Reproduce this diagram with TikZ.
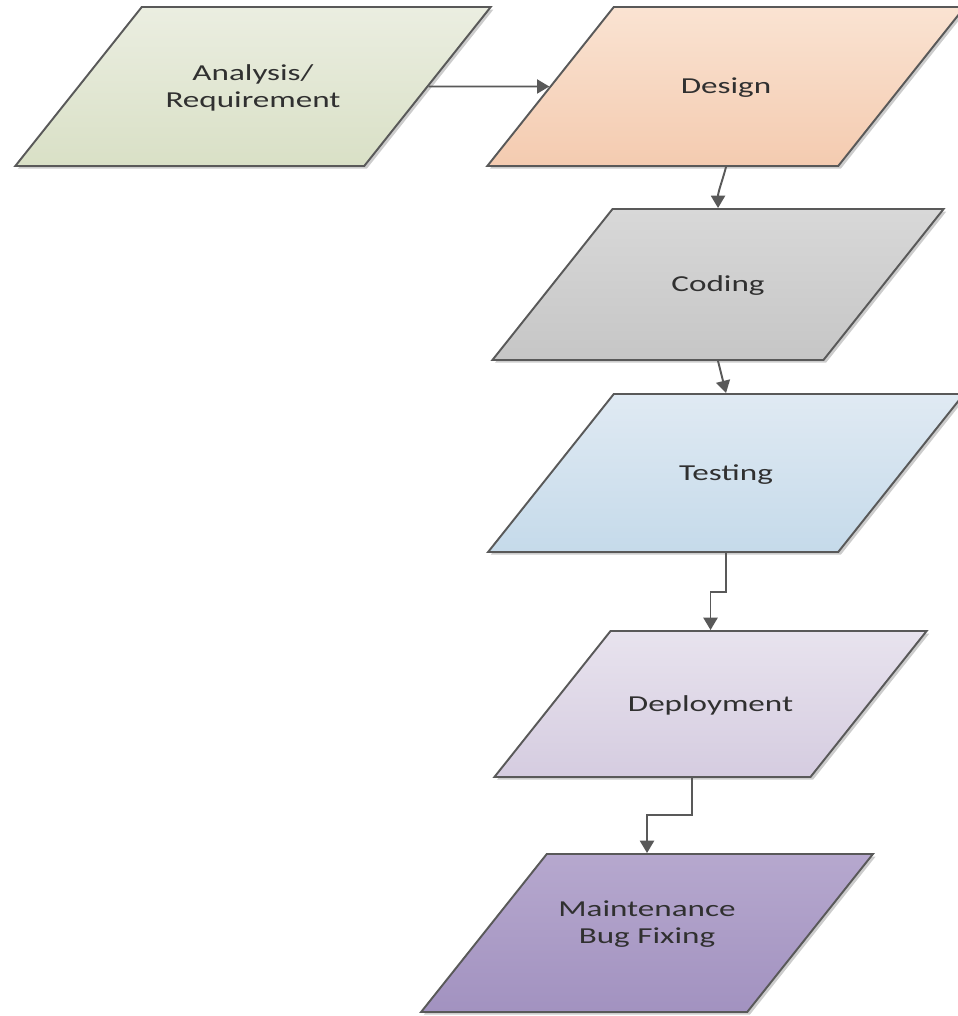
\documentclass[tikz,border=0pt]{standalone}
\usepackage{fontspec}
\setmainfont[FakeStretch=1.45]{Carlito}
\usepackage{tikz}
\usetikzlibrary{arrows.meta}
\usetikzlibrary{shapes.geometric}
\usetikzlibrary{shadows}
\usetikzlibrary{positioning}

\definecolor{linegray}{HTML}{595959}
\definecolor{textgray}{HTML}{303030}
\definecolor{anatop}{HTML}{EBEEE1}
\definecolor{anabot}{HTML}{D9E0C6}
\definecolor{destop}{HTML}{FAE3D2}
\definecolor{desbot}{HTML}{F4CBB0}
\definecolor{codtop}{HTML}{D8D8D8}
\definecolor{codbot}{HTML}{C6C6C6}
\definecolor{testop}{HTML}{E0EAF3}
\definecolor{tesbot}{HTML}{C5DAEA}
\definecolor{deptop}{HTML}{E8E3EE}
\definecolor{depbot}{HTML}{D5CCE0}
\definecolor{maitop}{HTML}{B6A8CE}
\definecolor{maibot}{HTML}{A292C0}

\begin{document}
\begin{tikzpicture}[->,>={Triangle[width=8pt,length=7pt]}, x=0.02cm, y=-0.02cm, line width=1.1pt, color=linegray]
    \tikzstyle{phase}=[trapezium, trapezium left angle=51.5, trapezium right angle=128.5,
        draw=linegray, text=textgray, inner sep=0pt, align=center, font=\fontsize{13}{15.5}\selectfont,
        drop shadow={shadow xshift=1.5pt, shadow yshift=-1.5pt, fill=black, opacity=0.2}]

    \useasboundingbox (0,0) rectangle (957,1016);

    \node[phase, top color=anatop, bottom color=anabot, text width=4.45cm, text height=1.465cm, text depth=1.715cm] (ana) at (253,86.5) {Analysis/\\Requirement};
    \node[phase, top color=destop, bottom color=desbot, text width=4.49cm, text height=1.74cm, text depth=1.44cm] (des) at (726,86.5) {Design};
    \node[phase, top color=codtop, bottom color=codbot, text width=4.22cm, text height=1.66cm, text depth=1.36cm] (cod) at (718,284.5) {Coding};
    \node[phase, top color=testop, bottom color=tesbot, text width=4.49cm, text height=1.73cm, text depth=1.43cm] (tes) at (726,473) {Testing};
    \node[phase, top color=deptop, bottom color=depbot, text width=4.0cm, text height=1.61cm, text depth=1.31cm] (dep) at (710.5,704) {Deployment};
    \node[phase, top color=maitop, bottom color=maibot, text width=4.01cm, text height=1.255cm, text depth=1.905cm] (mai) at (647,933) {Maintenance\\Bug Fixing};

    \path (ana) edge (des)
        (cod.south) edge (tes.north);
    \draw (des.south) to[out=-105, in=90] (cod.north);
    \draw (tes.south) -- ++(0,39) -| (dep.north);
    \draw ([xshift=-0.37cm]dep.south) -- ++(0,37) -| (mai.north);
\end{tikzpicture}
\end{document}
